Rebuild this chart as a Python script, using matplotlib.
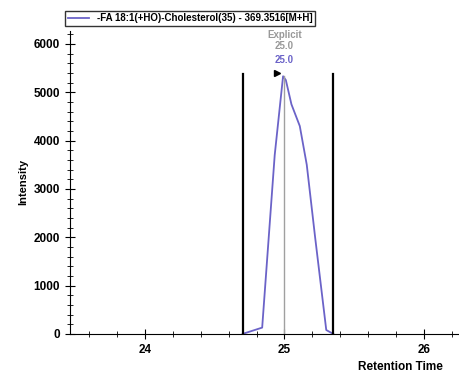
import matplotlib
matplotlib.use('Agg')
import matplotlib.pyplot as plt
from matplotlib.ticker import MultipleLocator

plt.rcParams['font.family'] = ['Liberation Sans', 'DejaVu Sans']

# данные хроматограммы
rt = [24.70, 24.84, 24.93, 24.99, 25.01, 25.05, 25.11, 25.16, 25.22, 25.30, 25.35]
intensity = [0, 130, 3700, 5330, 5250, 4750, 4300, 3500, 2000, 80, 0]
peak_rt = 25.0
peak_top = 5330
bounds = [24.70, 25.35]
bound_height = 5380
legend_label = '-FA 18:1(+HO)-Cholesterol(35) - 369.3516[M+H]'
line_color = '#6b63c8'

fig = plt.figure(figsize=(4.6, 3.76), dpi=100)
ax = fig.add_axes([0.152, 0.112, 0.848, 0.806])

ln, = ax.plot(rt, intensity, color=line_color, lw=1.3, label=legend_label)
ax.plot([peak_rt, peak_rt], [0, peak_top], color='#a0a0a0', lw=1)
for b in bounds:
    ax.plot([b, b], [0, bound_height], color='black', lw=1.6)
ax.plot(peak_rt - 0.055, 5400, marker='>', color='black', markersize=4.5)

ax.text(peak_rt, 5610, '25.0', color=line_color, ha='center', fontsize=7, fontweight='bold')
ax.text(peak_rt, 5900, '25.0', color='#999999', ha='center', fontsize=7, fontweight='bold')
ax.text(peak_rt, 6130, 'Explicit', color='#999999', ha='center', fontsize=7, fontweight='bold')

ax.set_xlim(23.46, 26.26)
ax.set_ylim(0, 6270)
ax.xaxis.set_major_locator(MultipleLocator(1))
ax.xaxis.set_minor_locator(MultipleLocator(0.2))
ax.yaxis.set_major_locator(MultipleLocator(1000))
ax.yaxis.set_minor_locator(MultipleLocator(200))
ax.tick_params(which='major', direction='inout', length=7, labelsize=8.5)
ax.tick_params(which='minor', direction='inout', length=4)
for lab in ax.get_xticklabels() + ax.get_yticklabels():
    lab.set_fontweight('bold')

ax.spines['top'].set_visible(False)
ax.spines['right'].set_visible(False)

ax.set_ylabel('Intensity', fontsize=8, fontweight='bold')
fig.text(0.87, 0.015, 'Retention Time', fontsize=8.5, fontweight='bold', ha='center')

fig.legend(handles=[ln], loc='upper left', bbox_to_anchor=(0.13, 0.985),
           frameon=True, fancybox=False, edgecolor='black', handlelength=2.2,
           borderpad=0.3, prop={'weight': 'bold', 'size': 7})

fig.savefig('out.png', dpi=100)
